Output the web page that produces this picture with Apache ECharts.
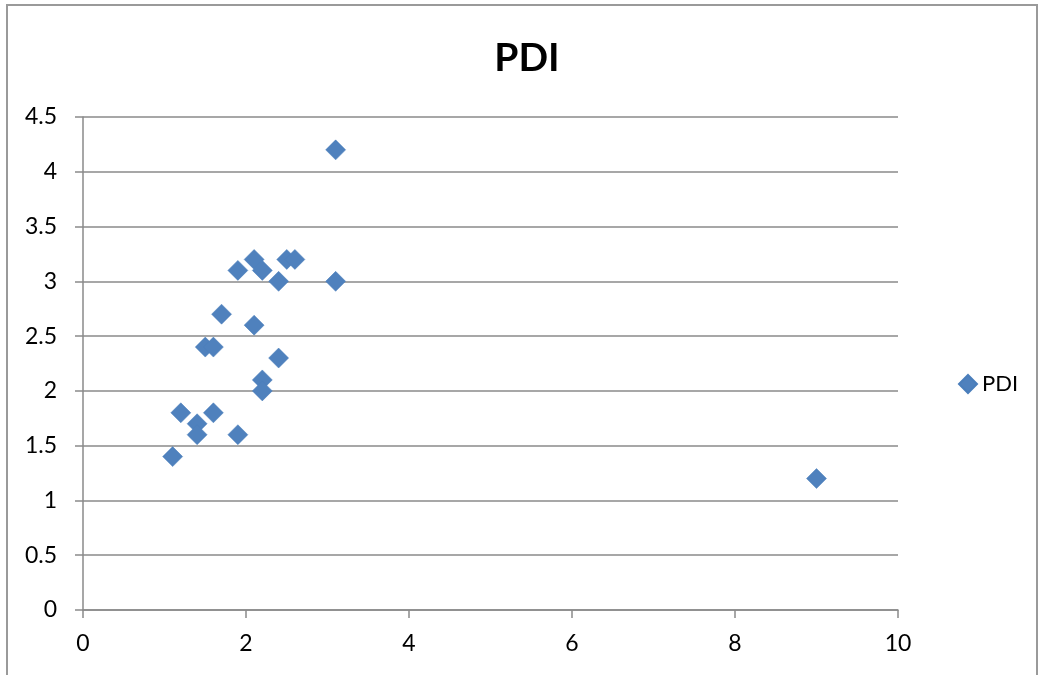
<!DOCTYPE html>
<html>
<head>
<meta charset="utf-8">
<title>PDI</title>
<script src="https://cdn.jsdelivr.net/npm/echarts@6/dist/echarts.min.js"></script>
<style>
  html, body { margin: 0; padding: 0; background: #fff; }
  #chart { width: 1039px; height: 675px; }
</style>
</head>
<body>
<div id="chart"></div>
<script>
// x and y values of the PDI scatter points
const xValues = [1.1, 1.2, 1.4, 1.4, 1.5, 1.6, 1.6, 1.7, 1.9, 1.9, 2.1, 2.1, 2.2, 2.2, 2.2, 2.4, 2.4, 2.5, 2.6, 3.1, 3.1, 9.0];
const yValues = [1.4, 1.8, 1.7, 1.6, 2.4, 2.4, 1.8, 2.7, 3.1, 1.6, 3.2, 2.6, 3.1, 2.1, 2.0, 3.0, 2.3, 3.2, 3.2, 4.2, 3.0, 1.2];
const seriesName = 'PDI';
const chartTitle = 'PDI';

const points = xValues.map((x, i) => [x, yValues[i]]);

const FONT = 'Lato, "Open Sans", sans-serif';
const AXIS_GRAY = '#8a8a8a';

const chart = echarts.init(document.getElementById('chart'), null, { renderer: 'canvas' });

chart.setOption({
  backgroundColor: '#ffffff',
  animation: false,
  title: {
    text: chartTitle,
    left: 522,
    textAlign: 'center',
    top: 34,
    textStyle: { fontFamily: FONT, fontWeight: 'bold', fontSize: 39, color: '#000' }
  },
  legend: {
    data: [seriesName],
    left: 953,
    top: 368,
    itemWidth: 18,
    itemHeight: 18,
    itemGap: 6,
    textStyle: { fontFamily: FONT, fontSize: 22, color: '#000' }
  },
  grid: { left: 83, right: 141, top: 117, bottom: 65, containLabel: false },
  xAxis: {
    type: 'value',
    min: 0, max: 10, interval: 2,
    axisLine: { show: true, lineStyle: { color: AXIS_GRAY, width: 1.5 } },
    axisTick: { show: true, length: 8, inside: false, lineStyle: { color: AXIS_GRAY, width: 1.5 } },
    axisLabel: { margin: 22, fontFamily: FONT, fontSize: 23, color: '#000' },
    splitLine: { show: false }
  },
  yAxis: {
    type: 'value',
    min: 0, max: 4.5, interval: 0.5,
    axisLine: { show: true, lineStyle: { color: AXIS_GRAY, width: 1.5 } },
    axisTick: { show: true, length: 8, inside: false, lineStyle: { color: AXIS_GRAY, width: 1.5 } },
    axisLabel: { margin: 26, fontFamily: FONT, fontSize: 23, color: '#000' },
    splitLine: { show: true, lineStyle: { color: AXIS_GRAY, width: 1.5 } }
  },
  series: [{
    name: seriesName,
    type: 'scatter',
    symbol: 'diamond',
    symbolSize: 20,
    itemStyle: { color: '#4F81BD', borderColor: '#4A7EBB', borderWidth: 0.5, opacity: 1 },
    data: points
  }],
  graphic: [{
    type: 'rect',
    shape: { x: 7, y: 5, width: 1030, height: 700 },
    style: { fill: null, stroke: '#9a9a9a', lineWidth: 2 },
    silent: true,
    z: 100
  }]
});
</script>
</body>
</html>
